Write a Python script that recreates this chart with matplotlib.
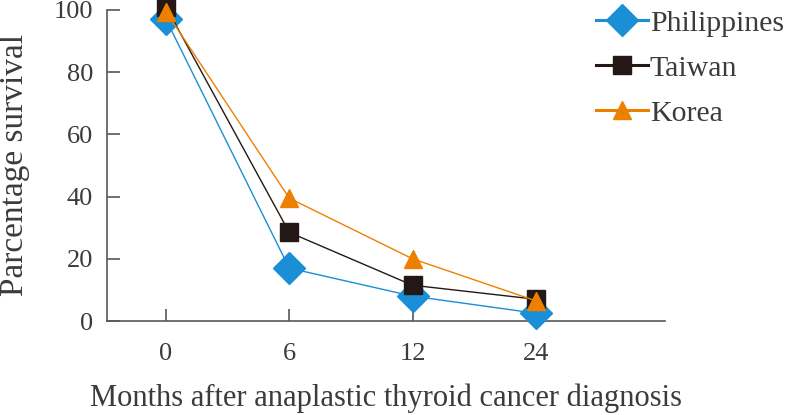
import matplotlib
matplotlib.use("Agg")
import matplotlib.pyplot as plt

months = ["0", "6", "12", "24"]
philippines = [97, 17, 8, 2.5]
taiwan = [101, 28.5, 11.5, 7]
korea = [99.5, 39.5, 20, 6.5]

plt.rcParams["font.family"] = ["Liberation Serif", "DejaVu Serif"]
grey = "#595757"
txt = "#3e3a39"

fig = plt.figure(figsize=(7.91, 4.15), dpi=100)
ax = fig.add_axes([0.135, 0.2265, 0.706, 0.7495])

x = range(len(months))
ax.plot(x, philippines, color="#1a8fd6", lw=1, marker="D", ms=16,
        label="Philippines", clip_on=False, zorder=3)
ax.plot(x, taiwan, color="#231815", lw=1, marker="s", ms=12.5,
        label="Taiwan", clip_on=False, zorder=4)
ax.plot(x, korea, color="#ee8000", lw=1, marker="^", ms=13,
        label="Korea", clip_on=False, zorder=5)

ax.set_xlim(-0.48, 4.05)
ax.set_ylim(0, 100)
ax.set_xticks(list(x))
ax.set_xticklabels(months)
ax.set_yticks([0, 20, 40, 60, 80, 100])

for s in ["top", "right"]:
    ax.spines[s].set_visible(False)
for s in ["left", "bottom"]:
    ax.spines[s].set_color(grey)
    ax.spines[s].set_linewidth(1.2)

ax.tick_params(direction="in", length=9, width=1.2, color=grey,
               labelsize=19, labelcolor=txt)
ax.tick_params(axis="x", pad=15.8)
ax.tick_params(axis="y", pad=10)

ax.set_ylabel("Parcentage survival", fontsize=24, color=txt, labelpad=16.5)
ax.set_xlabel("Months after anaplastic thyroid cancer diagnosis", fontsize=22,
              color=txt, labelpad=13.4)

leg = ax.legend(loc="upper left", bbox_to_anchor=(0.876, 1.0), frameon=False,
                fontsize=21.5, handlelength=1.75, handletextpad=0.05,
                labelspacing=0.6, borderaxespad=0, borderpad=0)
for t in leg.get_texts():
    t.set_color(txt)
for h in leg.legend_handles:
    h.set_linewidth(2.2)

fig.savefig("out.png", dpi=100)
